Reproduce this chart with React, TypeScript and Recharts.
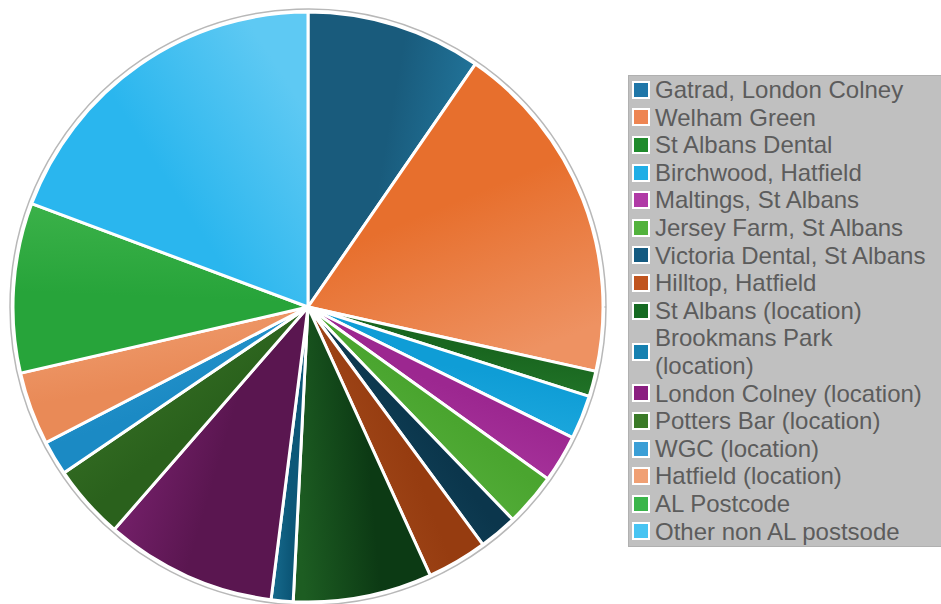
import React from 'react';
import { PieChart, Pie, Cell, Legend } from 'recharts';

const names = [
  'Gatrad, London Colney',
  'Welham Green',
  'St Albans Dental',
  'Birchwood, Hatfield',
  'Maltings, St Albans',
  'Jersey Farm, St Albans',
  'Victoria Dental, St Albans',
  'Hilltop, Hatfield',
  'St Albans (location)',
  'Brookmans Park (location)',
  'London Colney (location)',
  'Potters Bar (location)',
  'WGC (location)',
  'Hatfield (location)',
  'AL Postcode',
  'Other non AL postsode',
];

const shares = [9.6, 18.9, 1.4, 2.4, 2.6, 2.9, 2.1, 3.3, 7.6, 1.2, 9.4, 4.1, 1.9, 4.0, 9.3, 19.3];

// dark end / light end of each slice's shading
const darkColors = [
  '#195b7c', '#e76f2d', '#19661f', '#0f9dd6', '#9c2790', '#4aa52f', '#0b364c', '#963c10',
  '#0c3a14', '#0c5778', '#5a1650', '#2a611c', '#1b8ac4', '#e98a57', '#27a43a', '#2ab6ee',
];
const lightColors = [
  '#2379a0', '#ee9262', '#23772a', '#22ace0', '#ad3aa2', '#5cb542', '#154a63', '#a54d1e',
  '#1d5d22', '#186d90', '#7d2372', '#3a7428', '#2d9ad0', '#ef9c6e', '#3cb24a', '#5ec9f3',
];
const legendColors = [
  '#1f76a8', '#ee8552', '#1f8a2c', '#20aee6', '#b03aa6', '#52b23c', '#145a80', '#c0541e',
  '#156a22', '#1580b0', '#8a1e80', '#3a7a28', '#3a9ed6', '#f0a074', '#3ab54a', '#48c4f2',
];

const data = names.map((name, i) => ({ name, value: shares[i] }));
const total = shares.reduce((a, b) => a + b, 0);

// gradient direction follows each slice clockwise
const gradients = shares.map((v, i) => {
  const before = shares.slice(0, i).reduce((a, b) => a + b, 0);
  const mid = ((before + v / 2) / total) * 2 * Math.PI;
  const c = Math.cos(mid);
  const s = Math.sin(mid);
  return { x1: 0.5 - 0.5 * c, y1: 0.5 - 0.5 * s, x2: 0.5 + 0.5 * c, y2: 0.5 + 0.5 * s };
});

const LegendBox = () => (
  <div
    style={{
      background: '#c0c0c0',
      border: '1px solid #b0b0b0',
      width: 320,
      padding: '0 0 1px 3px',
      fontFamily: 'Arial, "Liberation Sans", sans-serif',
      fontSize: 24,
      lineHeight: '27.6px',
      color: '#5c5c5c',
      boxSizing: 'border-box',
    }}
  >
    {names.map((n, i) => (
      <div key={n} style={{ display: 'flex', alignItems: 'center' }}>
        <span
          style={{
            width: 14,
            height: 14,
            background: legendColors[i],
            border: '2px solid #fff',
            marginRight: 5,
            flexShrink: 0,
          }}
        />
        <span style={{ width: 278 }}>{n}</span>
      </div>
    ))}
  </div>
);

export default function App() {
  return (
    <div style={{ position: 'absolute', left: 0, top: 0, width: 941, height: 604, background: '#fff', overflow: 'hidden' }}>
      <PieChart width={941} height={604} margin={{ top: 0, right: 0, bottom: 0, left: 0 }}>
        <defs>
          {gradients.map((g, i) => (
            <linearGradient key={i} id={`slice${i}`} x1={g.x1} y1={g.y1} x2={g.x2} y2={g.y2}>
              <stop offset="0%" stopColor={darkColors[i]} />
              <stop offset="45%" stopColor={darkColors[i]} />
              <stop offset="100%" stopColor={lightColors[i]} />
            </linearGradient>
          ))}
        </defs>
        <Pie
          data={[{ name: 'ring', value: 1 }]}
          dataKey="value"
          cx={308}
          cy={307}
          outerRadius={298}
          fill="#fff"
          stroke="#b8b8b8"
          strokeWidth={1.5}
          isAnimationActive={false}
          legendType="none"
        />
        <Pie
          data={data}
          dataKey="value"
          nameKey="name"
          cx={308}
          cy={307}
          outerRadius={295}
          startAngle={90}
          endAngle={-270}
          stroke="#fff"
          strokeWidth={3}
          isAnimationActive={false}
        >
          {data.map((d, i) => (
            <Cell key={d.name} fill={`url(#slice${i})`} />
          ))}
        </Pie>
        <Legend
          content={() => <LegendBox />}
          wrapperStyle={{ position: 'absolute', left: 628, top: 75, width: 320 }}
        />
      </PieChart>
    </div>
  );
}
